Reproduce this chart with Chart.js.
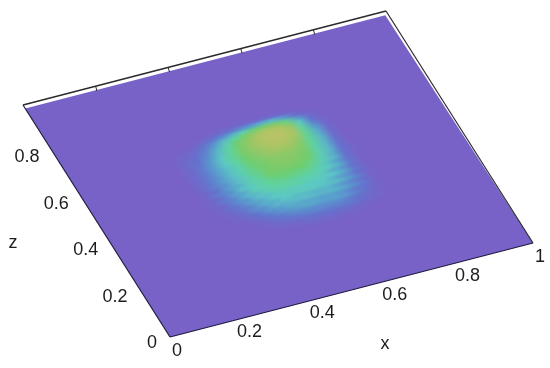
<!DOCTYPE html>
<html>
<head>
<meta charset="utf-8">
<title>Surface x z</title>
<script src="https://cdn.jsdelivr.net/npm/chart.js@4/dist/chart.umd.js"></script>
<style>
  html, body { margin: 0; padding: 0; background: #fff; }
  canvas { display: block; }
</style>
</head>
<body>
<canvas id="surface" width="550" height="368"></canvas>
<script>
const xTicks = [0, 0.2, 0.4, 0.6, 0.8, 1];
const zTicks = [0, 0.2, 0.4, 0.6, 0.8];
const xTickLabels = ["0", "0.2", "0.4", "0.6", "0.8", "1"];
const zTickLabels = ["0", "0.2", "0.4", "0.6", "0.8"];

// surface sampled by eye, one row per z
const heatX = [0.27, 0.30, 0.33, 0.36, 0.39, 0.42, 0.45, 0.48, 0.51, 0.54, 0.57, 0.60, 0.63, 0.66, 0.69, 0.72, 0.75];
const heatZ = [
  0.750, 0.735, 0.720, 0.705, 0.690, 0.675, 0.660, 0.645, 0.630, 0.615, 0.600,
  0.585, 0.570, 0.555, 0.540, 0.525, 0.510, 0.495, 0.480, 0.465, 0.450, 0.435,
  0.420, 0.405, 0.390, 0.375, 0.360, 0.345, 0.330, 0.315, 0.300, 0.285, 0.270
];
const heatRows = [
  [0, 0, 0, 0, 0, 0, 0, 0, 0, 0, 0, 0, 0, 0, 0, 0, 0],
  [0, 0, 0, 0, 0, 0, 0, 0, 0, 0, 0, 0, 0, 0, 0, 0, 0],
  [0, 0, 0, 0, 0, 1, 2, 3, 4, 5, 5, 3, 1, 0, 0, 0, 0],
  [0, 0, 0, 0, 3, 7, 12, 18, 24, 30, 32, 22, 6, 1, 0, 0, 0],
  [0, 0, 0, 4, 10, 18, 30, 44, 58, 68, 68, 52, 24, 5, 0, 0, 0],
  [0, 0, 2, 8, 18, 32, 48, 64, 82, 90, 90, 72, 36, 10, 1, 0, 0],
  [0, 2, 5, 12, 24, 40, 58, 74, 90, 96, 96, 84, 44, 16, 2, 0, 0],
  [1, 3, 7, 16, 30, 46, 62, 78, 92, 98, 97, 86, 48, 22, 3, 0, 0],
  [1, 5, 9, 18, 32, 48, 64, 78, 90, 96, 95, 84, 50, 26, 4, 0, 0],
  [1, 5, 11, 22, 36, 50, 64, 76, 86, 92, 90, 78, 50, 28, 5, 0, 0],
  [1, 5, 12, 24, 36, 50, 62, 72, 82, 86, 84, 72, 48, 30, 6, 0, 0],
  [1, 5, 13, 24, 36, 48, 60, 70, 78, 80, 78, 68, 48, 30, 7, 0, 0],
  [1, 5, 13, 24, 34, 46, 58, 66, 72, 74, 72, 66, 46, 30, 8, 0, 0],
  [1, 5, 13, 24, 34, 44, 56, 64, 70, 72, 70, 62, 44, 30, 8, 0, 0],
  [1, 5, 14, 22, 34, 44, 54, 62, 68, 70, 68, 60, 44, 30, 9, 1, 0],
  [0, 5, 13, 24, 32, 42, 52, 62, 66, 66, 64, 56, 40, 28, 9, 1, 0],
  [0, 4, 14, 20, 32, 40, 50, 60, 62, 62, 60, 52, 40, 30, 10, 1, 0],
  [0, 4, 10, 24, 28, 42, 46, 56, 58, 56, 54, 48, 34, 24, 8, 1, 0],
  [0, 4, 14, 18, 34, 36, 48, 50, 54, 52, 50, 42, 38, 28, 11, 1, 0],
  [0, 3, 8, 22, 26, 40, 42, 50, 48, 46, 44, 42, 30, 22, 8, 1, 0],
  [0, 3, 12, 16, 30, 32, 42, 44, 46, 44, 42, 36, 36, 26, 12, 2, 0],
  [0, 2, 6, 18, 22, 34, 34, 42, 38, 38, 36, 36, 28, 20, 9, 2, 0],
  [0, 1, 8, 12, 24, 26, 36, 36, 38, 38, 36, 34, 32, 24, 13, 2, 0],
  [0, 1, 3, 12, 16, 28, 28, 36, 32, 32, 30, 30, 24, 16, 9, 2, 0],
  [0, 0, 3, 7, 18, 20, 30, 30, 32, 32, 30, 30, 28, 20, 12, 2, 0],
  [0, 0, 1, 6, 10, 20, 22, 28, 26, 26, 24, 24, 20, 12, 8, 2, 0],
  [0, 0, 1, 2, 8, 12, 20, 22, 26, 26, 24, 24, 22, 14, 8, 2, 0],
  [0, 0, 0, 1, 4, 10, 12, 18, 18, 18, 18, 18, 14, 8, 5, 1, 0],
  [0, 0, 0, 0, 2, 5, 10, 12, 14, 16, 14, 14, 12, 8, 4, 1, 0],
  [0, 0, 0, 0, 1, 3, 4, 7, 8, 8, 9, 8, 6, 3, 1, 0, 0],
  [0, 0, 0, 0, 0, 1, 2, 3, 5, 5, 5, 4, 3, 1, 0, 0, 0],
  [0, 0, 0, 0, 0, 0, 0, 1, 2, 2, 2, 1, 1, 0, 0, 0, 0],
  [0, 0, 0, 0, 0, 0, 0, 0, 0, 0, 0, 0, 0, 0, 0, 0, 0]
];

// top and right of the fill stop a little short of the box
const planeX = [0, 1, 0.992, 0];
const planeZ = [0, 0, 0.985, 0.985];

// view: x and z axes as seen on the page
const view = { ox: 170, oy: 337, xx: 363, xy: -94, zx: -147, zy: -232 };
const project = (x, z) => ({
  x: view.ox + view.xx * x + view.zx * z,
  y: view.oy + view.xy * x + view.zy * z,
});

const colorStops = [
  [0, [120, 98, 200]],
  [10, [98, 115, 205]],
  [24, [88, 160, 205]],
  [36, [92, 200, 195]],
  [48, [95, 210, 160]],
  [60, [110, 205, 110]],
  [82, [160, 198, 100]],
  [100, [188, 195, 102]],
];

function heatColor(v) {
  let i = 1;
  while (i < colorStops.length - 1 && v > colorStops[i][0]) i++;
  const [v0, c0] = colorStops[i - 1];
  const [v1, c1] = colorStops[i];
  const t = (v - v0) / (v1 - v0);
  const c = c0.map((a, k) => Math.round(a + (c1[k] - a) * t));
  return `rgb(${c[0]},${c[1]},${c[2]})`;
}

function toPixel(chart, x, z) {
  const p = project(x, z);
  return { x: chart.scales.x.getPixelForValue(p.x), y: chart.scales.y.getPixelForValue(p.y) };
}

function rowGradient(chart, r) {
  const last = heatX.length - 1;
  const a = toPixel(chart, heatX[0], heatZ[r]);
  const b = toPixel(chart, heatX[last], heatZ[r]);
  // options also get resolved once before the scales have a size
  if (![a.x, a.y, b.x, b.y].every(Number.isFinite)) return heatColor(0);
  const g = chart.ctx.createLinearGradient(a.x, a.y, b.x, b.y);
  heatX.forEach((x, i) => {
    g.addColorStop((x - heatX[0]) / (heatX[last] - heatX[0]), heatColor(heatRows[r][i]));
  });
  return g;
}

function tracePlane(chart, xs, zs) {
  const ctx = chart.ctx;
  ctx.beginPath();
  xs.forEach((x, i) => {
    const p = toPixel(chart, x, zs[i]);
    if (i === 0) ctx.moveTo(p.x, p.y);
    else ctx.lineTo(p.x, p.y);
  });
  ctx.closePath();
}

const surfacePlugin = {
  id: "surfacePlugin",
  beforeDatasetsDraw(chart) {
    tracePlane(chart, planeX, planeZ);
    chart.ctx.fillStyle = heatColor(0);
    chart.ctx.fill();
  },
  // soften the rows once they are all down (index 0 goes last)
  afterDatasetDraw(chart, args) {
    if (args.index !== 0) return;
    const ctx = chart.ctx;
    ctx.save();
    tracePlane(chart, [0.2, 0.8, 0.8, 0.2], [0.2, 0.2, 0.8, 0.8]);
    ctx.clip();
    ctx.filter = "blur(1px)";
    ctx.drawImage(chart.canvas, 0, 0);
    ctx.restore();
  },
  afterDatasetsDraw(chart) {
    const ctx = chart.ctx;
    ctx.save();
    ctx.font = "18px 'Liberation Sans', Arial, sans-serif";
    ctx.fillStyle = "#1c1c1c";
    ctx.textBaseline = "middle";
    ctx.textAlign = "center";
    xTicks.forEach((x, i) => {
      const p = toPixel(chart, x, 0);
      ctx.fillText(xTickLabels[i], p.x + 7, p.y + 14);
    });
    ctx.textAlign = "right";
    zTicks.forEach((z, i) => {
      const p = toPixel(chart, 0, z);
      ctx.fillText(zTickLabels[i], p.x - 13, p.y + 6);
    });
    ctx.textAlign = "center";
    ctx.fillText("x", 385, 344);
    ctx.fillText("z", 13, 243);
    ctx.restore();
  },
};

const heatDatasets = heatZ.map((z, r) => ({
  data: heatX.map((x) => project(x, z)),
  borderColor: (c) => rowGradient(c.chart, r),
  borderWidth: 5,
  borderCapStyle: "butt",
  showLine: true,
  pointRadius: 0,
  order: 1,
}));

function frameLine(points, color, width) {
  return {
    data: points.map(([x, z]) => project(x, z)),
    borderColor: color,
    borderWidth: width,
    showLine: true,
    pointRadius: 0,
    order: 0,
  };
}

const frameDatasets = [
  frameLine([[0, 0], [1, 0]], "#1f1b3f", 1.2),
  frameLine([[0, 0], [0, 1]], "#1f1b3f", 1.2),
  frameLine([[0, 1], [1, 1]], "#2a2a2a", 1.4),
  frameLine([[1, 0], [1, 1]], "#2a2a2a", 1.2),
  ...[0.2, 0.4, 0.6, 0.8].map((x) => frameLine([[x, 1], [x - 0.004, 0.981]], "#2a2a2a", 1)),
];

new Chart(document.getElementById("surface"), {
  type: "scatter",
  data: { datasets: [...heatDatasets, ...frameDatasets] },
  options: {
    responsive: false,
    animation: false,
    layout: { padding: 0 },
    plugins: { legend: { display: false }, tooltip: { enabled: false } },
    scales: {
      x: { type: "linear", min: 0, max: 550, display: false },
      y: { type: "linear", min: 0, max: 368, reverse: true, display: false },
    },
  },
  plugins: [surfacePlugin],
});
</script>
</body>
</html>
